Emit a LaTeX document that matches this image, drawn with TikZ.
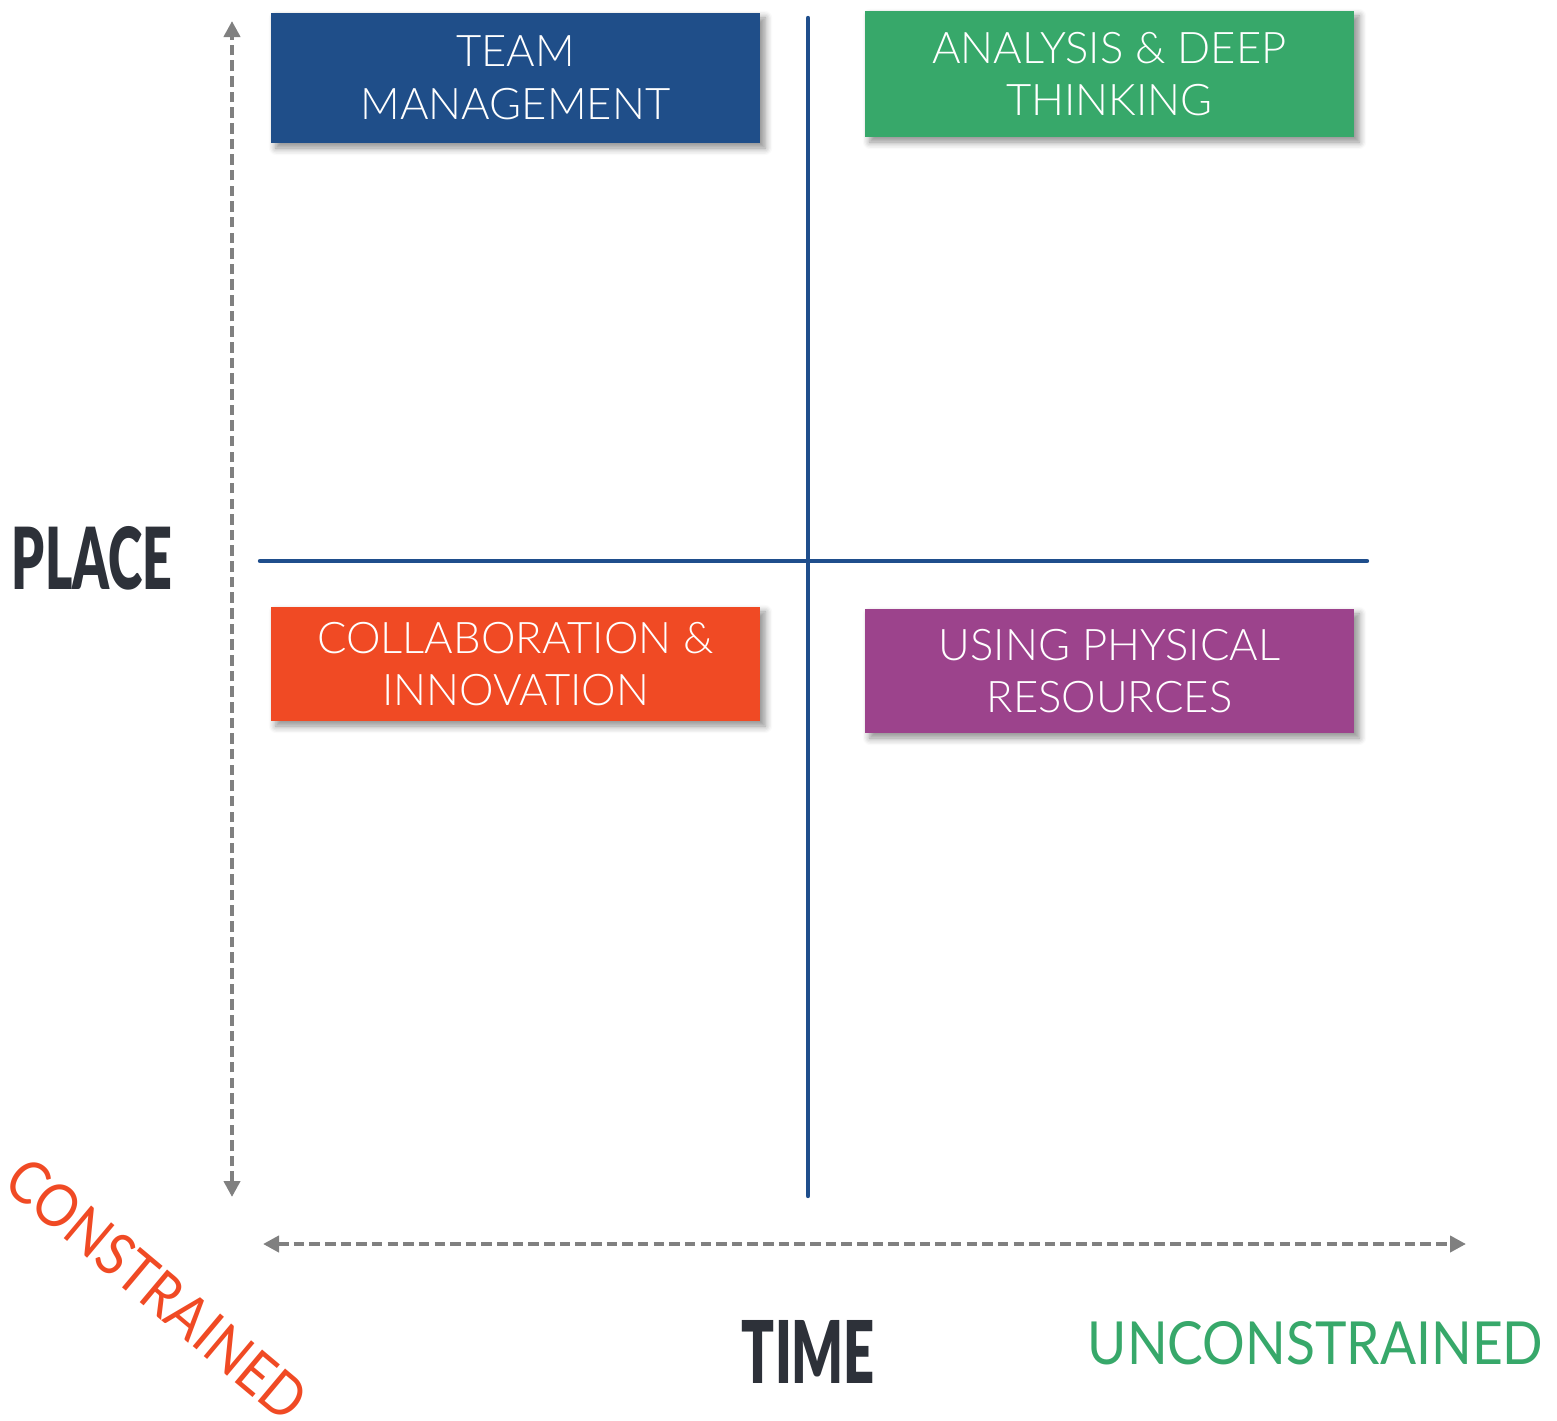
\documentclass[tikz,border=0pt]{standalone}
\usepackage{fontspec}
\setmainfont{Lato}[UprightFont=* Light, BoldFont=* Black]
\newfontfamily\labelfont{Lato}
\usepackage{tikz}
\usepackage{xcolor}
\usetikzlibrary{arrows.meta,shadows.blur}

\definecolor{teamblue}{HTML}{1F4E89}
\definecolor{deepgreen}{HTML}{37A86A}
\definecolor{collabred}{HTML}{F04A24}
\definecolor{physpurple}{HTML}{9C438C}
\definecolor{axisblue}{HTML}{1F4E8C}
\definecolor{axisgray}{HTML}{808080}
\definecolor{darkslate}{HTML}{2D3139}

\tikzset{
  quadbox/.style={draw=none, text=white, align=center, minimum width=4.89cm,
    font=\fontsize{12.4}{15}\selectfont,
    blur shadow={shadow xshift=0.05cm, shadow yshift=-0.05cm, shadow blur steps=6, shadow opacity=45}},
  divider/.style={axisblue, line width=1.25pt, line cap=round},
  dimaxis/.style={axisgray, line width=1.15pt, dash pattern=on 3pt off 1.45pt,
    {Triangle[length=0.16cm,width=0.16cm]}-{Triangle[length=0.16cm,width=0.16cm]}}
}

\begin{document}
\begin{tikzpicture}[x=0.01cm,y=-0.01cm]
                \useasboundingbox (0,0) rectangle (1557,1421);
                \coordinate (ptop) at (232,21);
                \coordinate (pbot) at (232,1197);
                \coordinate (tleft) at (263,1244);
                \coordinate (tright) at (1466,1244);
                \coordinate (vtop) at (808,18);
                \coordinate (vbot) at (808,1196);
                \coordinate (hleft) at (260,561);
                \coordinate (hright) at (1367,561);
                \draw[dimaxis] (pbot) -- (ptop);
                \draw[dimaxis] (tleft) -- (tright);
                \draw[divider] (vtop) -- (vbot);
                \draw[divider] (hleft) -- (hright);
                \node[quadbox, fill=teamblue, minimum height=1.30cm] (team) at (515.5,78) {TEAM\\MANAGEMENT};
                \node[quadbox, fill=deepgreen, minimum height=1.26cm] (deep) at (1109.5,74) {ANALYSIS \& DEEP\\THINKING};
                \node[quadbox, fill=collabred, minimum height=1.14cm] (collab) at (515.5,664) {COLLABORATION \&\\INNOVATION};
                \node[quadbox, fill=physpurple, minimum height=1.24cm] (phys) at (1109.5,671) {USING PHYSICAL\\RESOURCES};
                \node[inner sep=0pt, text=darkslate] (place) at (92,558.5) {\resizebox{1.60cm}{0.63cm}{\bfseries PLACE}};
                \node[inner sep=0pt, text=darkslate] (time) at (808.5,1351.5) {\resizebox{1.33cm}{0.63cm}{\bfseries TIME}};
                \node[inner sep=0pt, text=deepgreen] (free) at (1315.5,1343.5) {\resizebox{4.55cm}{0.43cm}{\labelfont UNCONSTRAINED}};
                \node[inner sep=0pt, text=collabred, rotate=-40] (bound) at (157,1289) {\resizebox{3.70cm}{0.43cm}{\labelfont CONSTRAINED}};
            \end{tikzpicture}
\end{document}
